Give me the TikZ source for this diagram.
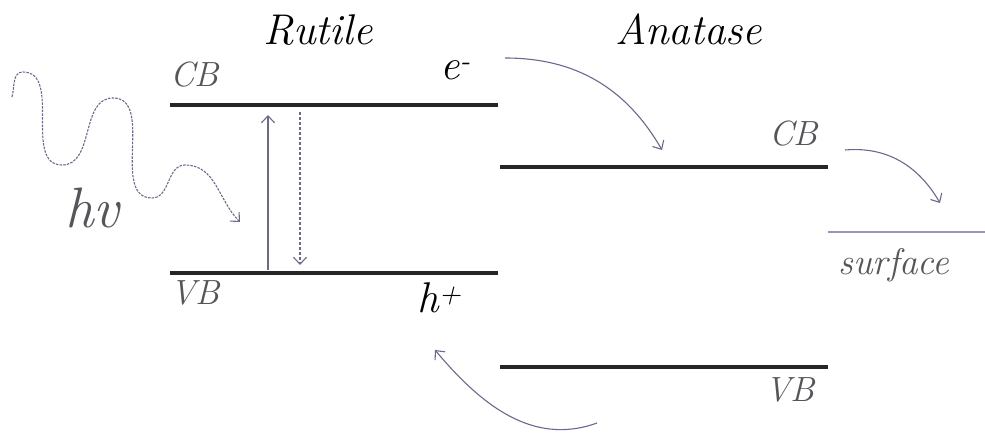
\documentclass[tikz,border=0pt]{standalone}
\usetikzlibrary{arrows.meta}
\definecolor{bdgray}{RGB}{85,85,90}
\definecolor{bdarrow}{RGB}{105,105,145}
\definecolor{bdsurf}{RGB}{150,150,185}
\tikzset{
  bd level/.style={draw=black!85,line width=3.2pt},
  bd band/.style={font=\fontsize{35}{37}\selectfont\itshape,text=bdgray,inner sep=0pt},
  bd title/.style={font=\fontsize{43}{45}\selectfont\itshape,inner sep=0pt},
  bd arrow/.style={draw=bdarrow,line width=1.1pt,
    -{Straight Barb[length=7pt,width=13pt,line width=1.1pt]}}
}

\begin{document}
\begin{tikzpicture}[x=1pt,y=1pt]
  \useasboundingbox (0,0) rectangle (985,436);
  % energy levels
  \draw[bd level] (170,331)--(498,331);
  \draw[bd level] (170,163)--(498,163);
  \draw[bd level] (500,269)--(828,269);
  \draw[bd level] (500,69)--(828,69);
  \draw[draw=bdsurf,line width=2pt] (828,204)--(985,204);
  % labels
  \node[bd title,anchor=base] (rut) at (318,391) {Rutile};
  \node[bd title,anchor=base] (ana) at (689,391) {Anatase};
  \node[bd band,anchor=base west] (rcb) at (170,349) {CB};
  \node[bd band,anchor=base west] (rvb) at (170,131) {VB};
  \node[bd band,anchor=base east] (acb) at (818,290) {CB};
  \node[bd band,anchor=base east] (avb) at (815,34) {VB};
  \node[bd band,anchor=base,font=\fontsize{37}{39}\selectfont\itshape] (surf) at (894,161) {surface};
  \node[bd band,anchor=base west,font=\fontsize{57}{59}\selectfont\itshape] (hv) at (65,208) {hv};
  \node[bd title,anchor=base west] (el) at (440,356) {e\textsuperscript{-}};
  \node[bd title,anchor=base west] (ho) at (417,123) {h\textsuperscript{+}};
  % arrow ends
  \coordinate (w0) at (12,339);
  \coordinate (w1) at (23,364);
  \coordinate (w2) at (62,271);
  \coordinate (w3) at (113,338);
  \coordinate (w4) at (152,238);
  \coordinate (w5) at (185,271);
  \coordinate (w6) at (240,214);
  \coordinate (up0) at (268,166);
  \coordinate (up1) at (268,321);
  \coordinate (dn0) at (300,324);
  \coordinate (dn1) at (300,171);
  \coordinate (e0) at (505,378);
  \coordinate (e1) at (662,286);
  \coordinate (s0) at (845,286);
  \coordinate (s1) at (940,233);
  \coordinate (h0) at (597,13);
  \coordinate (h1) at (435,86);
  % photon
  \draw[bd arrow,dash pattern=on 2.5pt off 1.2pt]
    (w0) to[out=75,in=180] (w1) to[out=0,in=180] (w2) to[out=0,in=180] (w3)
    to[out=0,in=180] (w4) to[out=0,in=180] (w5) to[out=0,in=135] (w6);
  \draw[bd arrow] (up0)--(up1);
  \draw[bd arrow,dash pattern=on 3pt off 2pt] (dn0)--(dn1);
  \draw[bd arrow] (e0) to[out=0,in=120] (e1);
  \draw[bd arrow] (s0) to[out=5,in=120] (s1);
  \draw[bd arrow] (h0) to[out=200,in=-50] (h1);
\end{tikzpicture}
\end{document}
